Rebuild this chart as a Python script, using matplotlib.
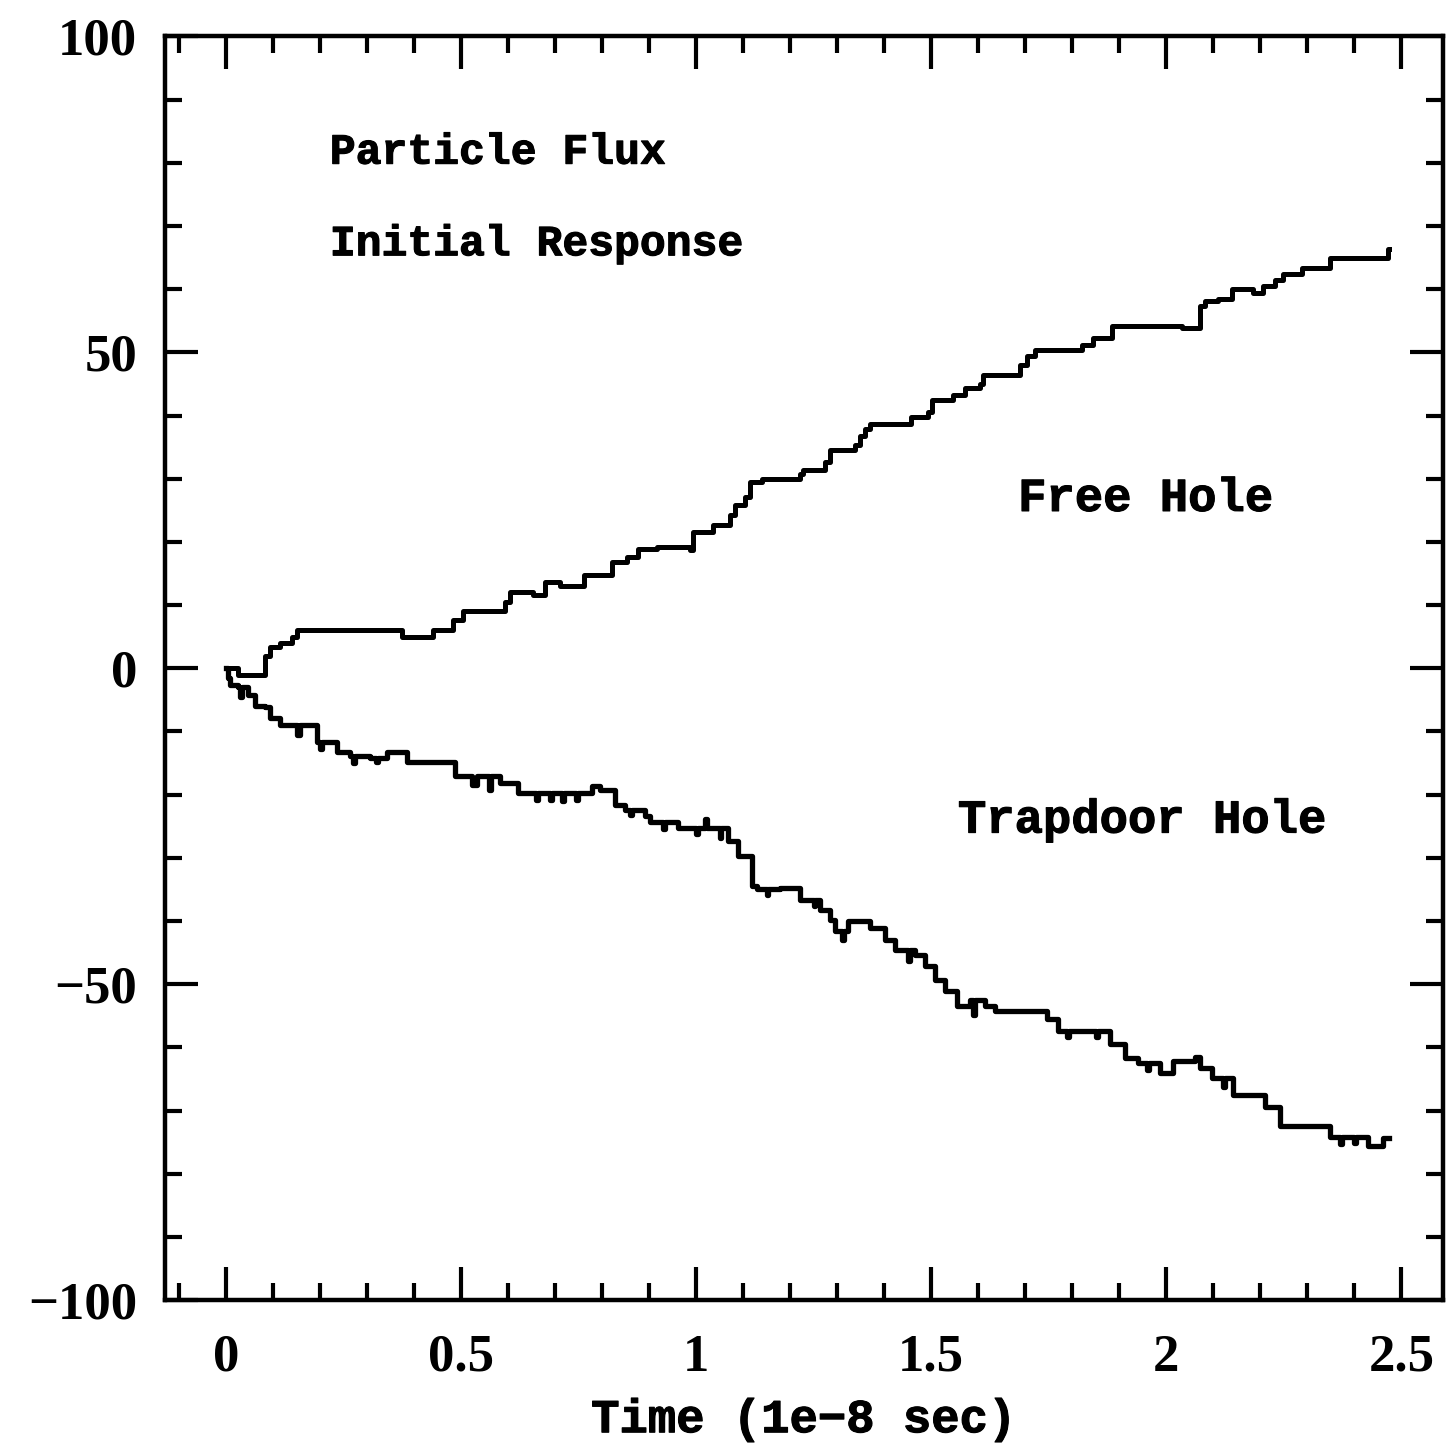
import numpy as np
import matplotlib
matplotlib.use("Agg")
import matplotlib.pyplot as plt
import matplotlib.patheffects as pe
from matplotlib.ticker import MultipleLocator

# Free hole flux (step changes: time in 1e-8 s, value)
free_t = [0.0, 0.025, 0.083, 0.094, 0.115, 0.14, 0.151, 0.374, 0.44, 0.483,
          0.504, 0.594, 0.604, 0.653, 0.679, 0.711, 0.762, 0.821, 0.853, 0.877,
          0.917, 0.987, 0.994, 1.036, 1.072, 1.083, 1.104, 1.115, 1.140, 1.221,
          1.228, 1.274, 1.285, 1.338, 1.349, 1.360, 1.370, 1.457, 1.494, 1.502,
          1.547, 1.572, 1.604, 1.611, 1.689, 1.704, 1.721, 1.821, 1.845, 1.885,
          2.034, 2.072, 2.083, 2.111, 2.140, 2.185, 2.206, 2.232, 2.249, 2.289,
          2.349, 2.472, 2.474]
free_y = [0, -1, 2, 3.3, 4, 5, 6, 5, 6, 7.6,
          9, 10.5, 12, 11.6, 13.7, 13, 14.7, 16.8, 17.6, 18.9,
          19.2, 18.7, 21.6, 22.7, 24.3, 25.9, 27.1, 29.5, 30, 30.8,
          31.4, 32.7, 34.5, 35.4, 36.7, 37.8, 38.6, 39.8, 40.6, 42.5,
          43.3, 44.3, 45, 46.4, 48, 49.4, 50.3, 51.2, 52.3, 54.2,
          53.8, 57.3, 58.1, 58.4, 60, 59.4, 60.5, 61.4, 62.4, 63.3,
          65, 66.3, 66.3]

# Trapdoor hole flux
trap_t = [0.0, 0.004, 0.009, 0.026, 0.047, 0.062, 0.083, 0.094, 0.115, 0.151,
          0.157, 0.194, 0.236, 0.264, 0.306, 0.343, 0.385, 0.487, 0.523, 0.534,
          0.583, 0.621, 0.66, 0.664, 0.715, 0.72, 0.745, 0.749, 0.779, 0.796,
          0.828, 0.849, 0.891, 0.902, 0.962, 1.02, 1.024, 1.068, 1.089, 1.119,
          1.130, 1.179, 1.221, 1.264, 1.285, 1.296, 1.323, 1.370, 1.402, 1.423,
          1.466, 1.487, 1.509, 1.530, 1.555, 1.583, 1.615, 1.636, 1.747, 1.770,
          1.881, 1.913, 1.940, 1.987, 2.015, 2.062, 2.072, 2.098, 2.143, 2.211,
          2.243, 2.349, 2.40, 2.404, 2.430, 2.462, 2.474]
trap_y = [0, -1.5, -2.7, -3, -4.3, -5.9, -6.2, -7.8, -9, -10.5,
          -9, -11.7, -13.3, -13.8, -14.2, -13.3, -14.9, -17, -18.5, -17,
          -18.1, -19.7, -20.8, -19.7, -21, -19.7, -20.8, -19.7, -18.6, -19.2,
          -21.6, -22.4, -23.3, -24.4, -25.2, -23.9, -25.2, -27.3, -29.7, -34.4,
          -35, -34.8, -36.7, -38.3, -39.8, -41.5, -40, -41.1, -43, -44.6,
          -45.4, -47.1, -49.4, -51.1, -53.5, -52.5, -53.5, -54.3, -55.5, -57.4,
          -59.4, -61.7, -62.5, -64.1, -62.1, -61.5, -63.3, -64.9, -67.6, -69.4,
          -72.4, -74.1, -75.2, -74.1, -75.6, -74.4, -74.4]

# short single-sample excursions on the trapdoor trace
trap_spike_t = [0.03, 0.2, 0.27, 0.32, 0.56, 0.69, 0.86, 0.93, 1.0, 1.05,
                1.15, 1.25, 1.31, 1.45, 1.59, 1.79, 1.85, 1.96, 2.12, 2.37]
trap_spike_y = [-4.5, -12.8, -15, -14.8, -19.2, -20.8, -23.2, -25.5, -26.3,
                -26.8, -35.9, -37.6, -43, -46.3, -54.8, -58.4, -58.3, -63.5,
                -66.2, -75.3]

labels = ["Particle Flux", "Initial Response", "Free Hole", "Trapdoor Hole"]
label_pos = [(0.221, 81.6), (0.221, 67.1), (1.685, 26.8), (1.557, -24.1)]
label_size = [31, 31, 34, 34]


def add_spikes(t, y, st, sy, w=0.004):
    t = np.asarray(t, float)
    y = np.asarray(y, float)
    pts = list(zip(t, y))
    for ts, vs in zip(st, sy):
        base = y[np.searchsorted(t, ts, side="right") - 1]
        pts.append((ts, vs))
        pts.append((ts + w, base))
    pts.sort(key=lambda p: p[0])
    return [p[0] for p in pts], [p[1] for p in pts]


fig = plt.figure(figsize=(14.46, 14.56), dpi=100)
ax = fig.add_axes([0.114, 0.107, 0.884, 0.868])

tt, ty = add_spikes(trap_t, trap_y, trap_spike_t, trap_spike_y)
ax.plot(free_t, free_y, drawstyle="steps-post", color="black", lw=3.6)
ax.plot(tt, ty, drawstyle="steps-post", color="black", lw=3.8)

heavy = [pe.withStroke(linewidth=0.8, foreground="black")]
for txt, (x, y), fs in zip(labels, label_pos, label_size):
    ax.text(x, y, txt, family="Liberation Mono", fontweight="bold",
            fontsize=fs, ha="left", va="center", path_effects=heavy)

ax.set_xlim(-0.13, 2.589)
ax.set_ylim(-100, 100)
ax.xaxis.set_major_locator(MultipleLocator(0.5))
ax.xaxis.set_minor_locator(MultipleLocator(0.1))
ax.yaxis.set_major_locator(MultipleLocator(50))
ax.yaxis.set_minor_locator(MultipleLocator(10))
ax.set_xticks([0, 0.5, 1, 1.5, 2, 2.5])
ax.set_xticklabels(["0", "0.5", "1", "1.5", "2", "2.5"])

ax.tick_params(which="both", direction="in", top=True, right=True, width=3,
               color="black")
ax.tick_params(which="major", length=24)
ax.tick_params(which="minor", length=12)
ax.tick_params(axis="x", which="major", pad=24)
ax.tick_params(axis="y", which="major", pad=20)
for lab in ax.get_xticklabels() + ax.get_yticklabels():
    lab.set_family("Liberation Serif")
    lab.set_fontweight("bold")
    lab.set_fontsize(38)

for sp in ax.spines.values():
    sp.set_linewidth(3.2)

ax.set_xlabel("Time (1e\u22128 sec)", family="Liberation Mono",
              fontweight="bold", fontsize=34, labelpad=12,
              path_effects=heavy)

fig.savefig("out.png", dpi=100)
